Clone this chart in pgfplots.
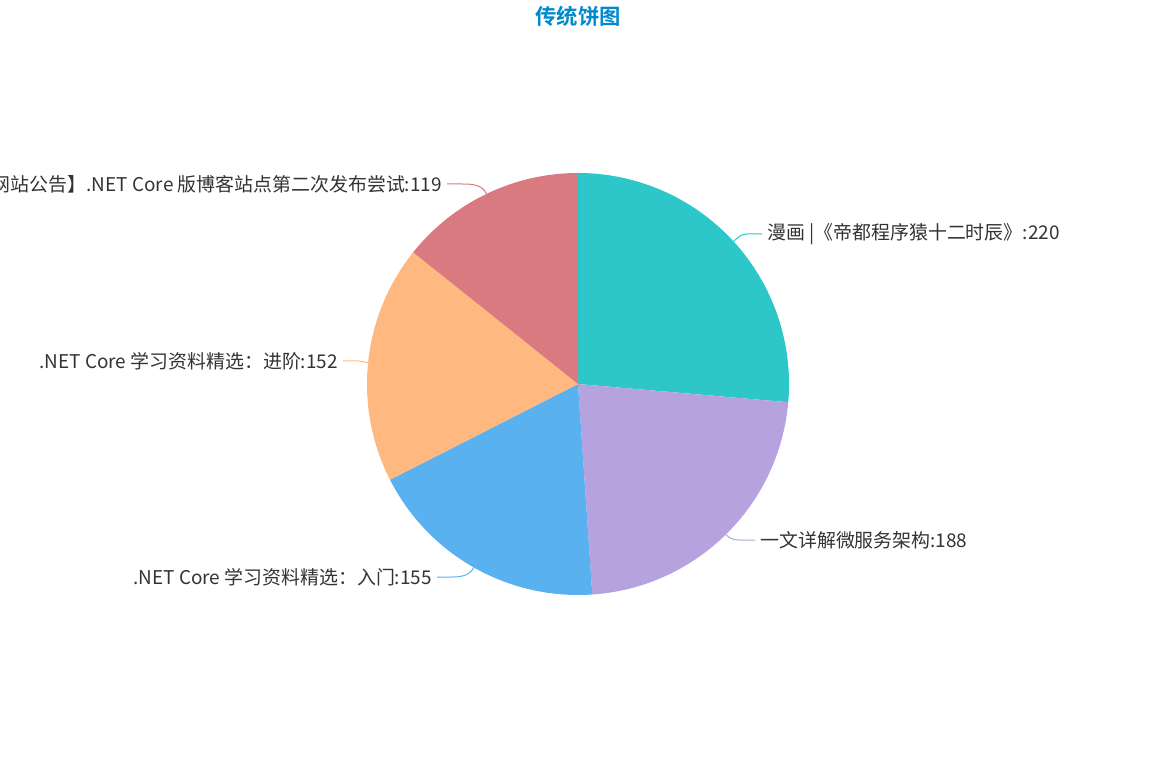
\documentclass[border=0pt]{standalone}
\usepackage{pgfplots}
\usepackage{pgfplotstable}
\pgfplotsset{compat=1.18}
\usepackage{fontspec}
\setmainfont{Noto Sans CJK SC}[BoldFont={Noto Sans CJK SC Bold}]
\usetikzlibrary{calc}
\definecolor{c1}{HTML}{2EC7C9}
\definecolor{c2}{HTML}{B6A2DE}
\definecolor{c3}{HTML}{5AB1EF}
\definecolor{c4}{HTML}{FFB980}
\definecolor{c5}{HTML}{D87A80}
\definecolor{titleblue}{HTML}{008ACD}
\definecolor{txt}{HTML}{333333}

% value; colour; label position (pixels, y from bottom); name
\pgfplotstableread[col sep=semicolon]{
value;col;lx;ly;name
220;c1;767;534;漫画 |《帝都程序猿十二时辰》
188;c2;760;228;一文详解微服务架构
155;c3;432;191;.NET Core 学习资料精选：入门
152;c4;338;407;.NET Core 学习资料精选：进阶
119;c5;442;584;【网站公告】.NET Core 版博客站点第二次发布尝试
}\piedata

\begin{document}
\begin{tikzpicture}
\begin{axis}[
    width=867pt, height=576pt, scale only axis,
    xmin=0, xmax=1156, ymin=0, ymax=768,
    hide axis,
  ]
  \addplot[draw=none] coordinates {(0,0) (1156,768)};
  \pgfplotsextra{
    \def\R{158.25pt}
    \pgfplotstablegetrowsof{\piedata}
    \pgfmathtruncatemacro\lastrow{\pgfplotsretval-1}
    \gdef\pietotal{0}
    \foreach \i in {0,...,\lastrow}{
      \pgfplotstablegetelem{\i}{value}\of\piedata
      \pgfmathsetmacro\tmp{\pietotal+\pgfplotsretval}
      \xdef\pietotal{\tmp}
    }
    \gdef\pieang{90}
    \foreach \i in {0,...,\lastrow}{
      \pgfplotstablegetelem{\i}{value}\of\piedata \let\v\pgfplotsretval
      \pgfplotstablegetelem{\i}{col}\of\piedata \let\c\pgfplotsretval
      \pgfplotstablegetelem{\i}{lx}\of\piedata \let\lx\pgfplotsretval
      \pgfplotstablegetelem{\i}{ly}\of\piedata \let\ly\pgfplotsretval
      \pgfplotstablegetelem{\i}{name}\of\piedata \let\lab\pgfplotsretval
      \pgfmathsetmacro\aend{\pieang-360*(\v/\pietotal)}
      \pgfmathsetmacro\amid{(\pieang+\aend)/2}
      \pgfmathsetmacro\side{cos(\amid)>0 ? 1 : -1}
      \fill[\c] (axis cs:578,384) -- ++(\pieang:\R)
        arc[start angle=\pieang, end angle=\aend, radius=\R] -- cycle;
      \ifdim\side pt>0pt
        \draw[\c, line width=0.75pt] ($(axis cs:578,384)+(\amid:\R)$)
          to[out=\amid, in=180] (axis cs:\lx-20,\ly) -- (axis cs:\lx-5,\ly);
        \node[anchor=west, inner sep=0pt, text=txt, font=\fontsize{14.2}{17}\selectfont]
          at (axis cs:\lx,\ly) {\lab:\v};
      \else
        \draw[\c, line width=0.75pt] ($(axis cs:578,384)+(\amid:\R)$)
          to[out=\amid, in=0] (axis cs:\lx+20,\ly) -- (axis cs:\lx+5,\ly);
        \node[anchor=east, inner sep=0pt, text=txt, font=\fontsize{14.2}{17}\selectfont]
          at (axis cs:\lx,\ly) {\lab:\v};
      \fi
      \xdef\pieang{\aend}
    }
  }
  \node[text=titleblue, font=\fontsize{16}{19}\selectfont\bfseries]
    at (axis cs:578,752) {传统饼图};
\end{axis}
\pgfresetboundingbox
\useasboundingbox (0,0) rectangle (867pt,576pt);
\end{tikzpicture}
\end{document}
